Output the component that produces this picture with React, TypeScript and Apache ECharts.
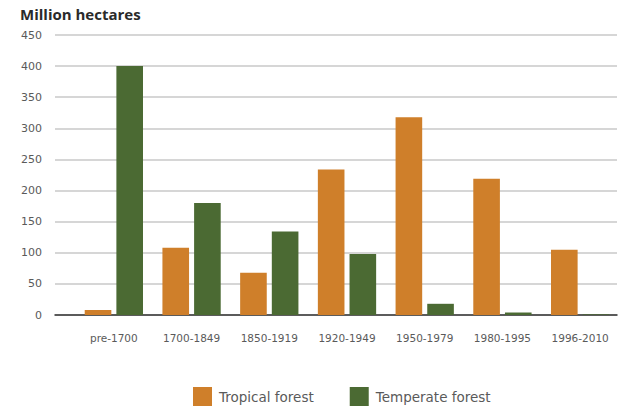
import React, { useEffect, useRef } from "react";
import * as echarts from "echarts";

const categories = ["pre-1700", "1700-1849", "1850-1919", "1920-1949", "1950-1979", "1980-1995", "1996-2010"];
const tropical = [8, 108, 68, 234, 318, 219, 105];
const temperate = [400, 180, 134, 98, 18, 4, 1];
const yTicks = { min: 0, max: 450, interval: 50 };

const ORANGE = "#cf7f2a";
const GREEN = "#4b6a33";
const FONT = "Open Sans, sans-serif";
const TICKFONT = "DejaVu Sans, sans-serif";

export default function App() {
  const ref = useRef<HTMLDivElement>(null);
  useEffect(() => {
    const chart = echarts.init(ref.current!, null, { renderer: "svg" });
    chart.setOption({
      animation: false,
      backgroundColor: "#fff",
      textStyle: { fontFamily: FONT },
      title: {
        text: "Million hectares",
        left: 15,
        top: 1,
        textStyle: { fontSize: 15, fontWeight: "bold", color: "#2a2a2a", fontFamily: FONT },
      },
      legend: {
        left: 188,
        top: 382,
        itemWidth: 19,
        itemHeight: 19,
        itemGap: 36,
        icon: "rect",
        textStyle: { fontSize: 13.5, color: "#5a5a5a", fontFamily: TICKFONT, padding: [0, 0, 0, 2] },
        data: ["Tropical forest", "Temperate forest"],
      },
      grid: [
        { left: 55, right: 8, top: 35, bottom: 93 },
        { left: 75, right: 6, top: 35, bottom: 93 },
      ],
      xAxis: [
        {
          gridIndex: 0,
          type: "value",
          min: 0,
          max: 1,
          axisLine: { show: true, onZero: false, lineStyle: { color: "#333", width: 1.5 } },
          axisTick: { show: false },
          axisLabel: { show: false },
          splitLine: { show: false },
        },
        {
          gridIndex: 1,
          type: "category",
          data: categories,
          axisLine: { show: false },
          axisTick: { show: false },
          axisLabel: { fontSize: 10.5, color: "#5a5a5a", margin: 17, fontFamily: TICKFONT, interval: 0 },
        },
      ],
      yAxis: [
        {
          gridIndex: 0,
          type: "value",
          min: yTicks.min,
          max: yTicks.max,
          interval: yTicks.interval,
          axisLine: { show: false },
          axisTick: { show: false },
          axisLabel: { fontSize: 11, color: "#5a5a5a", margin: 13, fontFamily: TICKFONT },
          splitLine: { lineStyle: { color: "#c8c8c8", width: 1.5 } },
        },
        {
          gridIndex: 1,
          type: "value",
          min: yTicks.min,
          max: yTicks.max,
          interval: yTicks.interval,
          show: false,
          splitLine: { show: false },
        },
      ],
      series: [
        {
          name: "Tropical forest",
          type: "bar",
          xAxisIndex: 1,
          yAxisIndex: 1,
          data: tropical,
          itemStyle: { color: ORANGE },
          barGap: "19%",
          barCategoryGap: "25%",
        },
        {
          name: "Temperate forest",
          type: "bar",
          xAxisIndex: 1,
          yAxisIndex: 1,
          data: temperate,
          itemStyle: { color: GREEN },
          barGap: "19%",
          barCategoryGap: "25%",
        },
      ],
    });
    return () => chart.dispose();
  }, []);
  return <div ref={ref} style={{ width: 625, height: 408, position: "absolute", left: 0, top: 0 }} />;
}
